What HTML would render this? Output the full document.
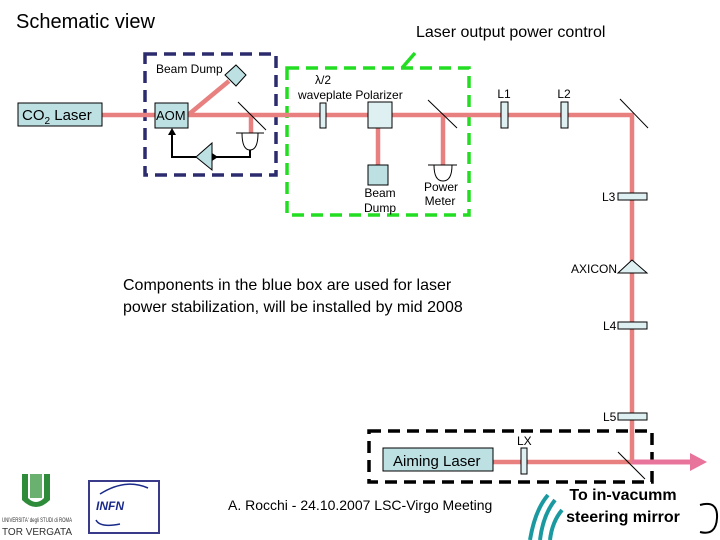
<!DOCTYPE html>
<html><head><style>body{margin:0;background:#fff}svg{display:block}text{font-family:"Liberation Sans",sans-serif}</style></head><body>
<svg width="720" height="540" viewBox="0 0 720 540" xmlns="http://www.w3.org/2000/svg">
<g fill="#000">
<text x="16" y="28" font-size="20">Schematic view</text>
<text x="416" y="37" font-size="16">Laser output power control</text>
<text x="123" y="290" font-size="16">Components in the blue box are used for laser</text>
<text x="123" y="312" font-size="16">power stabilization, will be installed by mid 2008</text>
<text x="228" y="510" font-size="14">A. Rocchi - 24.10.2007 LSC-Virgo Meeting</text>
</g>
<rect x="145" y="54" width="131" height="121" fill="none" stroke="#2b2b6e" stroke-width="3.5" stroke-dasharray="12,7"/>
<rect x="287" y="68" width="182" height="147" fill="none" stroke="#22dd22" stroke-width="3.5" stroke-dasharray="12,7"/>
<line x1="402" y1="68" x2="415" y2="53" stroke="#22dd22" stroke-width="3.5"/>
<rect x="369" y="431" width="283" height="51" fill="none" stroke="#000" stroke-width="3.5" stroke-dasharray="12,7"/>
<g stroke="#e88080" stroke-width="4.5" fill="none">
<line x1="100" y1="115" x2="634" y2="115"/>
<line x1="632" y1="115" x2="632" y2="462"/>
<line x1="188" y1="115" x2="229" y2="81"/>
<line x1="251" y1="115" x2="251" y2="133"/>
<line x1="378" y1="115" x2="378" y2="165"/>
<line x1="443" y1="115" x2="443" y2="165"/>
<line x1="492" y1="462" x2="632" y2="462"/>
</g>
<line x1="632" y1="462" x2="692" y2="462" stroke="#e8749b" stroke-width="5"/>
<polygon points="690,453 707,462 690,471" fill="#e8749b"/>
<rect x="18" y="103" width="84" height="23" fill="#bde0e3" stroke="#000"/>
<text x="22" y="120" font-size="15">CO<tspan font-size="10" dy="4">2</tspan><tspan dy="-4"> Laser</tspan></text>
<rect x="155" y="103" width="33" height="25" fill="#bde0e3" stroke="#000"/>
<text x="156" y="120" font-size="13">AOM</text>
<text x="156" y="73" font-size="12">Beam Dump</text>
<polygon points="236,65 246,75 236,86 225,75" fill="#bde0e3" stroke="#000"/>
<g stroke="#000" fill="none" stroke-width="1">
<line x1="238" y1="102" x2="266" y2="130"/>
<line x1="236" y1="133" x2="264" y2="133"/>
<path d="M242,133 Q242,150 250,150 Q258,150 258,133"/>
<line x1="428" y1="100" x2="457" y2="128"/>
<line x1="620" y1="99" x2="648" y2="128"/>
<line x1="618" y1="452" x2="645" y2="479"/>
<line x1="428" y1="165" x2="457" y2="165"/>
<path d="M434,165 Q434,181 443,181 Q452,181 452,165"/>
</g>
<g stroke="#000" stroke-width="2" fill="none">
<polyline points="250,150 250,157 216,157"/>
<polyline points="196,157 172,157 172,133"/>
</g>
<polygon points="212,153 218,157 212,161" fill="#000"/>
<polygon points="168,135 172,128 176,135" fill="#000"/>
<polygon points="196,157 212,143 212,170" fill="#bde0e3" stroke="#000"/>
<text x="323" y="84" font-size="12" text-anchor="middle">λ/2</text>
<text x="298" y="99" font-size="12">waveplate  Polarizer</text>
<rect x="320" y="103" width="6" height="25" fill="#dff0f2" stroke="#000"/>
<rect x="368" y="102" width="24" height="26" fill="#dff0f2" stroke="#000"/>
<rect x="368" y="165" width="20" height="20" fill="#bde0e3" stroke="#000"/>
<text x="380" y="197" font-size="12" text-anchor="middle">Beam</text>
<text x="380" y="212" font-size="12" text-anchor="middle">Dump</text>
<text x="441" y="191" font-size="12" text-anchor="middle">Power</text>
<text x="440" y="205" font-size="12" text-anchor="middle">Meter</text>
<text x="504" y="98" font-size="12" text-anchor="middle">L1</text>
<text x="564" y="98" font-size="12" text-anchor="middle">L2</text>
<rect x="501" y="102" width="7" height="26" fill="#dff0f2" stroke="#000"/>
<rect x="561" y="102" width="7" height="26" fill="#dff0f2" stroke="#000"/>
<rect x="618" y="193" width="29" height="7" fill="#dff0f2" stroke="#000"/>
<text x="602" y="201" font-size="12">L3</text>
<polygon points="632,260 618,273 647,273" fill="#dff0f2" stroke="#000"/>
<text x="571" y="273" font-size="12">AXICON</text>
<rect x="618" y="322" width="29" height="7" fill="#dff0f2" stroke="#000"/>
<text x="603" y="330" font-size="12">L4</text>
<rect x="618" y="413" width="29" height="7" fill="#dff0f2" stroke="#000"/>
<text x="603" y="421" font-size="12">L5</text>
<rect x="383" y="448" width="110" height="23" fill="#bde0e3" stroke="#000"/>
<text x="393" y="466" font-size="15">Aiming Laser</text>
<rect x="521" y="448" width="6" height="26" fill="#dff0f2" stroke="#000"/>
<text x="517" y="445" font-size="12">LX</text>
<text x="623" y="500" font-size="16" font-weight="bold" text-anchor="middle">To in-vacumm</text>
<text x="623" y="522" font-size="16" font-weight="bold" text-anchor="middle">steering mirror</text>
<path d="M22,474 L22,500 Q36,514 50,500 L50,474 L44,474 L44,498 Q36,506 28,498 L28,474Z" fill="#2e8b3a"/>
<rect x="30" y="474" width="12" height="24" fill="#6ab06f"/>
<text x="2" y="522" font-size="6" fill="#333" textLength="70" lengthAdjust="spacingAndGlyphs">UNIVERSITA' degli STUDI di ROMA</text>
<text x="2" y="535" font-size="10" fill="#333" textLength="70" lengthAdjust="spacingAndGlyphs">TOR VERGATA</text>
<rect x="89" y="481" width="70" height="52" fill="#fff" stroke="#3a3a8a" stroke-width="2"/>
<text x="96" y="510" font-size="12" font-weight="bold" font-style="italic" fill="#1a2a8a">INFN</text>
<path d="M100,494 Q125,478 148,488" stroke="#1a2a8a" fill="none" stroke-width="1.5"/>
<path d="M96,520 Q100,528 120,524" stroke="#1a2a8a" fill="none" stroke-width="1.5"/>
<g stroke="#1a9aa0" stroke-width="4" fill="none">
<path d="M530,540 Q535,510 548,495"/>
<path d="M540,540 Q543,515 555,500"/>
<path d="M550,540 Q552,522 562,510"/>
</g>
<path d="M700,505 Q718,500 717,518 Q716,536 700,532" stroke="#000" stroke-width="2" fill="none"/>
</svg>
</body></html>
